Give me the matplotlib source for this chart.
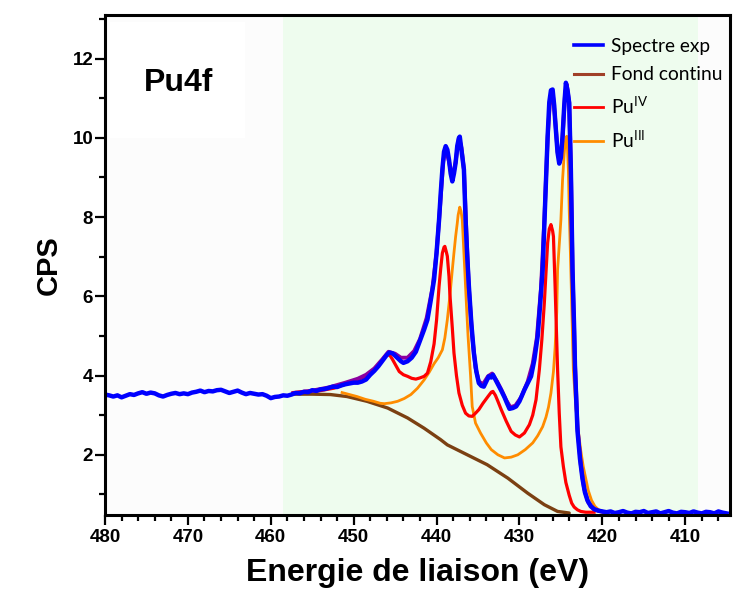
import matplotlib
matplotlib.use("Agg")
import matplotlib.pyplot as plt
from matplotlib.patches import Rectangle
from matplotlib.lines import Line2D

# ---------------- data ----------------
exp_E = [480.0, 479.5, 479.0, 478.5, 478.0, 477.5, 477.0, 476.5, 476.0, 475.5, 475.0, 474.5,
         474.0, 473.5, 473.0, 472.5, 472.0, 471.5, 471.0, 470.5, 470.0, 469.5, 469.0, 468.5,
         468.0, 467.5, 467.0, 466.5, 466.0, 465.5, 465.0, 464.5, 464.0, 463.5, 463.0, 462.5,
         462.0, 461.5, 461.0, 460.5, 460.0, 459.5, 459.0, 458.5, 458.0, 457.5, 457.0, 456.5,
         456.0, 455.5, 455.0, 454.5, 454.0, 453.5, 453.0, 452.5, 452.0, 451.5, 451.0, 450.5,
         450.0, 449.5, 449.0, 448.5, 448.0, 447.5, 447.0, 446.5, 446.0, 445.7, 445.3, 445.0,
         444.7, 444.3, 444.0, 443.5, 443.0, 442.5, 442.0, 441.5, 441.1, 440.7, 440.3, 440.0,
         439.7, 439.5, 439.3, 439.1, 438.9, 438.7, 438.5, 438.3, 438.1, 437.9, 437.7, 437.5,
         437.3, 437.2, 437.0, 436.7, 436.5, 436.3, 436.1, 435.8, 435.5, 435.2, 434.9, 434.6,
         434.3, 434.0, 433.7, 433.4, 433.2, 432.9, 432.6, 432.2, 431.8, 431.5, 431.2, 430.8,
         430.4, 430.0, 429.4, 428.9, 428.6, 428.2, 427.8, 427.5, 427.2, 426.9, 426.6, 426.4,
         426.2, 426.0, 425.8, 425.7, 425.4, 425.2, 425.0, 424.8, 424.6, 424.4, 424.2, 424.0,
         423.8, 423.6, 423.4, 423.3, 423.0, 422.7, 422.4, 422.1, 421.8, 421.4, 421.0, 420.5,
         420.0, 419.5, 419.0, 418.5, 418.0, 417.5, 417.0, 416.5, 416.0, 415.5, 415.0, 414.5,
         414.0, 413.5, 413.0, 412.5, 412.0, 411.5, 411.0, 410.5, 410.0, 409.5, 409.0, 408.5,
         408.0, 407.5, 407.0, 406.5, 406.0, 405.5, 405.0]
exp_I = [3.52, 3.50, 3.47, 3.50, 3.45, 3.49, 3.53, 3.51, 3.55, 3.58, 3.54, 3.57,
         3.55, 3.50, 3.47, 3.51, 3.54, 3.56, 3.53, 3.55, 3.53, 3.57, 3.59, 3.62,
         3.58, 3.61, 3.60, 3.63, 3.64, 3.60, 3.56, 3.59, 3.62, 3.57, 3.53, 3.56,
         3.54, 3.52, 3.53, 3.49, 3.43, 3.46, 3.47, 3.50, 3.49, 3.52, 3.56, 3.55,
         3.59, 3.58, 3.63, 3.61, 3.65, 3.66, 3.69, 3.72, 3.71, 3.75, 3.78, 3.80,
         3.82, 3.82, 3.85, 3.90, 4.02, 4.12, 4.24, 4.38, 4.52, 4.58, 4.56, 4.50,
         4.44, 4.36, 4.32, 4.36, 4.45, 4.60, 4.88, 5.16, 5.41, 5.90, 6.42, 7.10,
         7.93, 8.60, 9.20, 9.65, 9.79, 9.70, 9.45, 9.10, 8.90, 9.10, 9.37, 9.80,
         10.00, 10.03, 9.70, 9.20, 7.93, 7.00, 6.25, 5.30, 4.57, 4.10, 3.81, 3.74,
         3.72, 3.85, 3.98, 3.95, 4.02, 3.90, 3.78, 3.62, 3.45, 3.30, 3.16, 3.18,
         3.22, 3.35, 3.64, 3.85, 3.98, 4.40, 4.99, 5.80, 6.67, 8.36, 10.04, 10.90,
         11.20, 11.22, 10.80, 10.46, 9.62, 9.35, 9.50, 10.04, 10.80, 11.39, 11.20, 10.88,
         9.20, 6.67, 5.16, 4.20, 2.60, 1.90, 1.40, 1.05, 0.85, 0.70, 0.63, 0.59,
         0.57, 0.55, 0.57, 0.53, 0.55, 0.58, 0.54, 0.52, 0.56, 0.55, 0.58, 0.53,
         0.55, 0.57, 0.52, 0.55, 0.58, 0.54, 0.52, 0.56, 0.55, 0.53, 0.57, 0.54,
         0.52, 0.56, 0.55, 0.52, 0.57, 0.54, 0.52]

fit_E = [457.3, 455.0, 453.0, 451.0, 449.5, 448.5, 447.5, 446.5, 445.8, 445.0, 444.3, 443.5,
         442.7, 442.0, 441.2, 440.5, 440.0, 439.6, 439.2, 438.9, 438.5, 438.1, 437.7, 437.3,
         437.0, 436.7, 436.4, 436.1, 435.7, 435.3, 434.9, 434.4, 433.8, 433.3, 432.7, 432.2,
         431.6, 431.1, 430.5, 429.8, 429.0, 428.4, 427.9, 427.4, 427.0, 426.6, 426.3, 426.0,
         425.7, 425.4, 425.1, 424.8, 424.5, 424.3, 424.0, 423.8, 423.6, 423.3, 423.0, 422.6,
         422.2, 421.7, 421.0, 420.0]
fit_I = [3.55, 3.62, 3.70, 3.82, 3.92, 4.02, 4.18, 4.42, 4.60, 4.55, 4.45, 4.45,
         4.62, 4.92, 5.45, 6.20, 7.10, 8.20, 9.40, 9.75, 9.40, 8.95, 9.40, 10.00,
         9.75, 9.20, 7.60, 6.20, 5.00, 4.20, 3.85, 3.78, 3.98, 4.05, 3.85, 3.65,
         3.38, 3.20, 3.24, 3.45, 3.85, 4.30, 4.95, 6.20, 7.90, 10.00, 11.00, 11.15,
         10.50, 9.65, 9.40, 10.00, 11.10, 11.35, 10.90, 9.30, 6.70, 4.30, 2.70, 1.75,
         1.15, 0.80, 0.62, 0.56]

bg_E = [457.3, 455.0, 452.8, 450.8, 448.4, 445.9, 443.5, 441.5, 439.5, 438.7, 436.3,
        433.9, 431.4, 429.0, 427.0, 425.4, 424.0]
bg_I = [3.53, 3.53, 3.52, 3.47, 3.35, 3.18, 2.93, 2.67, 2.38, 2.25, 2.00,
        1.75, 1.41, 1.03, 0.74, 0.57, 0.53]

pu4_E = [457.3, 456.0, 454.0, 452.4, 451.0, 449.6, 448.8, 448.0, 447.3, 446.7, 446.2, 445.9,
         445.6, 445.3, 444.9, 444.5, 444.0, 443.5, 443.0, 442.5, 442.0, 441.5, 441.1, 440.7,
         440.3, 440.0, 439.7, 439.5, 439.3, 439.1, 439.0, 438.8, 438.7, 438.5, 438.4, 438.1,
         437.9, 437.6, 437.3, 436.9, 436.5, 436.1, 435.7, 435.3, 434.9, 434.4, 433.8, 433.4,
         433.2, 432.9, 432.6, 432.2, 431.6, 431.0, 430.5, 430.0, 429.4, 428.8, 428.4, 428.0,
         427.6, 427.3, 427.0, 426.8, 426.6, 426.4, 426.2, 426.0, 425.9, 425.7, 425.55, 425.4,
         425.2, 425.0, 424.7, 424.4, 424.0, 423.7, 423.4, 423.0, 422.6, 422.0, 421.0]
pu4_I = [3.57, 3.60, 3.62, 3.68, 3.78, 3.89, 3.96, 4.06, 4.20, 4.36, 4.48, 4.53,
         4.50, 4.40, 4.25, 4.10, 4.02, 3.98, 3.93, 3.91, 3.94, 3.98, 4.06, 4.35,
         4.80, 5.40, 6.25, 6.70, 7.09, 7.24, 7.26, 7.10, 7.01, 6.50, 6.08, 5.20,
         4.57, 4.00, 3.56, 3.25, 3.05, 2.98, 2.97, 3.05, 3.14, 3.30, 3.47, 3.58,
         3.60, 3.50, 3.35, 3.14, 2.85, 2.59, 2.50, 2.45, 2.55, 2.76, 3.00, 3.39,
         4.15, 4.90, 5.83, 6.60, 7.35, 7.70, 7.81, 7.65, 7.51, 6.25, 5.20, 4.15,
         3.05, 2.20, 1.70, 1.30, 0.98, 0.78, 0.68, 0.61, 0.57, 0.55, 0.55]

pu3_E = [451.4, 450.5, 449.6, 448.6, 447.6, 446.8, 446.3, 445.5, 444.7, 443.9, 443.1, 442.3,
         441.5, 440.9, 440.3, 439.8, 439.3, 439.0, 438.7, 438.4, 438.1, 437.9, 437.7, 437.5,
         437.4, 437.2, 437.05, 436.9, 436.75, 436.6, 436.4, 436.2, 435.9, 435.7, 435.3, 434.7,
         434.0, 433.4, 432.6, 431.8, 431.0, 430.2, 429.3, 428.4, 427.8, 427.2, 426.8, 426.5,
         426.2, 425.9, 425.7, 425.5, 425.4, 425.2, 425.0, 424.8, 424.6, 424.5, 424.3, 424.2,
         424.1, 424.0, 423.8, 423.5, 423.2, 422.9, 422.6, 422.3, 422.0, 421.7, 421.3, 420.9,
         420.5, 420.0]
pu3_I = [3.57, 3.52, 3.47, 3.40, 3.35, 3.30, 3.29, 3.31, 3.35, 3.42, 3.52, 3.68,
         3.89, 4.08, 4.30, 4.45, 4.65, 4.95, 5.41, 6.00, 6.67, 7.10, 7.51, 7.85,
         8.05, 8.25, 8.15, 7.93, 7.30, 6.67, 5.80, 4.99, 4.00, 3.22, 2.80, 2.55,
         2.30, 2.13, 2.00, 1.92, 1.94, 2.00, 2.13, 2.30, 2.48, 2.71, 2.95, 3.20,
         3.56, 4.10, 4.70, 5.60, 6.67, 7.30, 7.93, 8.94, 9.60, 9.87, 10.04, 9.70,
         9.20, 8.20, 6.67, 4.15, 3.20, 2.60, 2.10, 1.70, 1.40, 1.10, 0.85, 0.70,
         0.62, 0.57]

series_labels = ["Spectre exp", "Fond continu", "Pu$^{\\mathregular{IV}}$", "Pu$^{\\mathregular{III}}$"]
x_ticks = [480, 470, 460, 450, 440, 430, 420, 410]
y_ticks = [2, 4, 6, 8, 10, 12]

# ---------------- figure ----------------
W, H = 748, 599
L, R, T, B = 105, 730, 15, 515
fig = plt.figure(figsize=(W / 100, H / 100), dpi=100)
ax = fig.add_axes([L / W, (H - B) / H, (R - L) / W, (B - T) / H])
ax.set_facecolor("#fcfcfc")

ax.set_xlim(480, 404.6)
ax.set_ylim(0.48, 13.1)

ax.axvspan(458.5, 408.5, color="#eefcee", zorder=0, lw=0)
ax.add_patch(Rectangle(((110 - L) / (R - L), (B - 138) / (B - T)), 135 / (R - L), 116 / (B - T),
                       transform=ax.transAxes, facecolor="white", edgecolor="none", zorder=0.5))

c_blue = "#0000ff"
c_brown = "#7b4012"
c_red = "#ff0000"
c_orange = "#ff8c00"
c_purple = "#8b00a0"

ax.plot(bg_E, bg_I, color=c_brown, lw=2.4, zorder=2, solid_capstyle="round")
ax.plot(pu3_E, pu3_I, color=c_orange, lw=2.0, zorder=3)
ax.plot(pu4_E, pu4_I, color=c_red, lw=2.3, zorder=4)
ax.plot(fit_E, fit_I, color=c_purple, lw=2.8, zorder=5)
ax.plot(exp_E, exp_I, color=c_blue, lw=3.2, zorder=6)

# axes styling
for s in ax.spines.values():
    s.set_linewidth(2.2)
    s.set_zorder(10)
ax.set_xticks(x_ticks)
ax.set_xticks([x for x in range(406, 481, 2)], minor=True)
ax.set_yticks(y_ticks)
ax.set_yticks([1, 3, 5, 7, 9, 11, 13], minor=True)
ax.tick_params(which="major", direction="out", length=7, width=1.6)
ax.tick_params(which="minor", direction="out", length=4, width=1.6)
ax.tick_params(axis="x", which="major", pad=3)
ax.tick_params(axis="y", which="major", pad=1.5)
lab_font = dict(family=["Liberation Sans", "DejaVu Sans"], weight="bold", size=13.5)
ax.set_xticklabels([str(v) for v in x_ticks], **lab_font)
ax.set_yticklabels([str(v) for v in y_ticks], **lab_font)

ax.set_xlabel("Energie de liaison (eV)", family=["Liberation Sans", "DejaVu Sans"],
              weight="bold", size=23, labelpad=9)
ax.set_ylabel("CPS", family=["Liberation Sans", "DejaVu Sans"], weight="bold", size=21,
              labelpad=7)

ax.text(144 / W, 1 - 91 / H, "Pu4f", transform=fig.transFigure, ha="left", va="baseline",
        family=["Liberation Sans", "DejaVu Sans"], weight="bold", size=23)

handles = [Line2D([], [], color=c_blue, lw=2.6),
           Line2D([], [], color="#a04028", lw=2.2),
           Line2D([], [], color=c_red, lw=2.0),
           Line2D([], [], color=c_orange, lw=2.0)]
leg = ax.legend(handles, series_labels, loc="upper left",
                bbox_to_anchor=(574 / W, 1 - 38 / H), bbox_transform=fig.transFigure,
                frameon=False, borderpad=0, borderaxespad=0, handlelength=1.5,
                handletextpad=0.45, labelspacing=0.6,
                prop=dict(family=["Lato", "DejaVu Sans"], size=13.8))
leg.set_zorder(20)

fig.savefig("out.png", dpi=100)
